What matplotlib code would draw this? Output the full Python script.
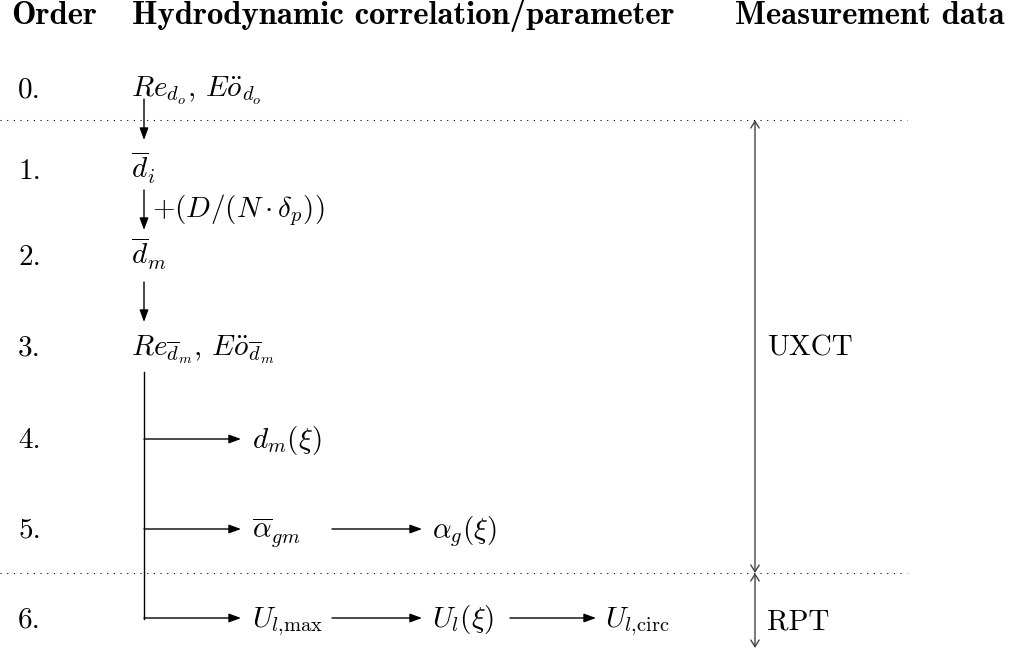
import matplotlib
matplotlib.use('Agg')
import matplotlib.pyplot as plt

plt.rcParams['mathtext.fontset'] = 'cm'
plt.rcParams['font.family'] = 'cmr10'
plt.rcParams['axes.formatter.use_mathtext'] = True

# conteudo do diagrama
headers = ['Order', 'Hydrodynamic correlation/parameter', 'Measurement data']
order_labels = ['0.', '1.', '2.', '3.', '4.', '5.', '6.']
main_params = [r'$Re_{d_o}$, $E\ddot{o}_{d_o}$',
               r'$\overline{d}_i$',
               r'$\overline{d}_m$',
               r'$Re_{\overline{d}_m}$, $E\ddot{o}_{\overline{d}_m}$']
step_note = r'$+(D/(N\cdot\delta_p))$'
# ramos da arvore: (linha, cadeia de parametros)
branch_rows = [4, 5, 6]
branch_chain = [[r'$d_m(\xi)$'],
                [r'$\overline{\alpha}_{gm}$', r'$\alpha_g(\xi)$'],
                [r'$U_{l{,}\mathrm{max}}$', r'$U_l(\xi)$', r'$U_{l{,}\mathrm{circ}}$']]
methods = ['UXCT', 'RPT']

# layout (pixels)
row_y = [97, 179, 265, 356, 448, 538, 627]
fs = 21
fs_head = 23.5

fig = plt.figure(figsize=(10.16, 6.55), dpi=100)
ax = fig.add_axes([0, 0, 1, 1])
ax.set_xlim(0, 1016)
ax.set_ylim(655, 0)
ax.axis('off')

def arrow(x0, y0, x1, y1, style='-|>,head_length=0.6,head_width=0.22', color='black', lw=1.0):
    ax.annotate('', xy=(x1, y1), xytext=(x0, y0),
                arrowprops=dict(arrowstyle=style, lw=lw, color=color,
                                shrinkA=0, shrinkB=0, mutation_scale=12))

# cabecalho
for x, h in zip([11, 132, 735], headers):
    ax.text(x, 24, h, family='cmb10', fontsize=fs_head, va='baseline', ha='left')

for i, lab in enumerate(order_labels):
    ax.text(18, row_y[i], lab, fontsize=fs, va='baseline')

for i, p in enumerate(main_params):
    ax.text(131, row_y[i], p, fontsize=fs, va='baseline')

# setas verticais
xs = 144
gaps = [(99, 140), (190, 230), (282, 322)]
for a, b in gaps:
    arrow(xs, a, xs, b)
ax.text(152, 217, step_note, fontsize=fs, va='baseline')

# arvore
ax.plot([xs, xs], [372, row_y[6] - 8], color='black', lw=1.0)
col_x = [252, 432, 605]
arr_x = [(xs, 241), (332, 422), (510, 596)]
for r, chain in zip(branch_rows, branch_chain):
    yb = row_y[r]
    ya = yb - 9
    for k, p in enumerate(chain):
        arrow(arr_x[k][0], ya, arr_x[k][1], ya)
        ax.text(col_x[k], yb, p, fontsize=fs, va='baseline')

# linhas pontilhadas
for y in [120, 573]:
    ax.plot([0, 907], [y, y], color='black', lw=0.8, linestyle=(0, (1, 5)))

# dados de medicao
ylims = [(120, 573), (573, 648)]
for m, (a, b), ty in zip(methods, ylims, [355, 629]):
    arrow(755, b, 755, a, style='<->,head_length=0.4,head_width=0.25', color='#444444')
    ax.text(767, ty, m, fontsize=fs, va='baseline')

fig.savefig('out.png', dpi=100)
